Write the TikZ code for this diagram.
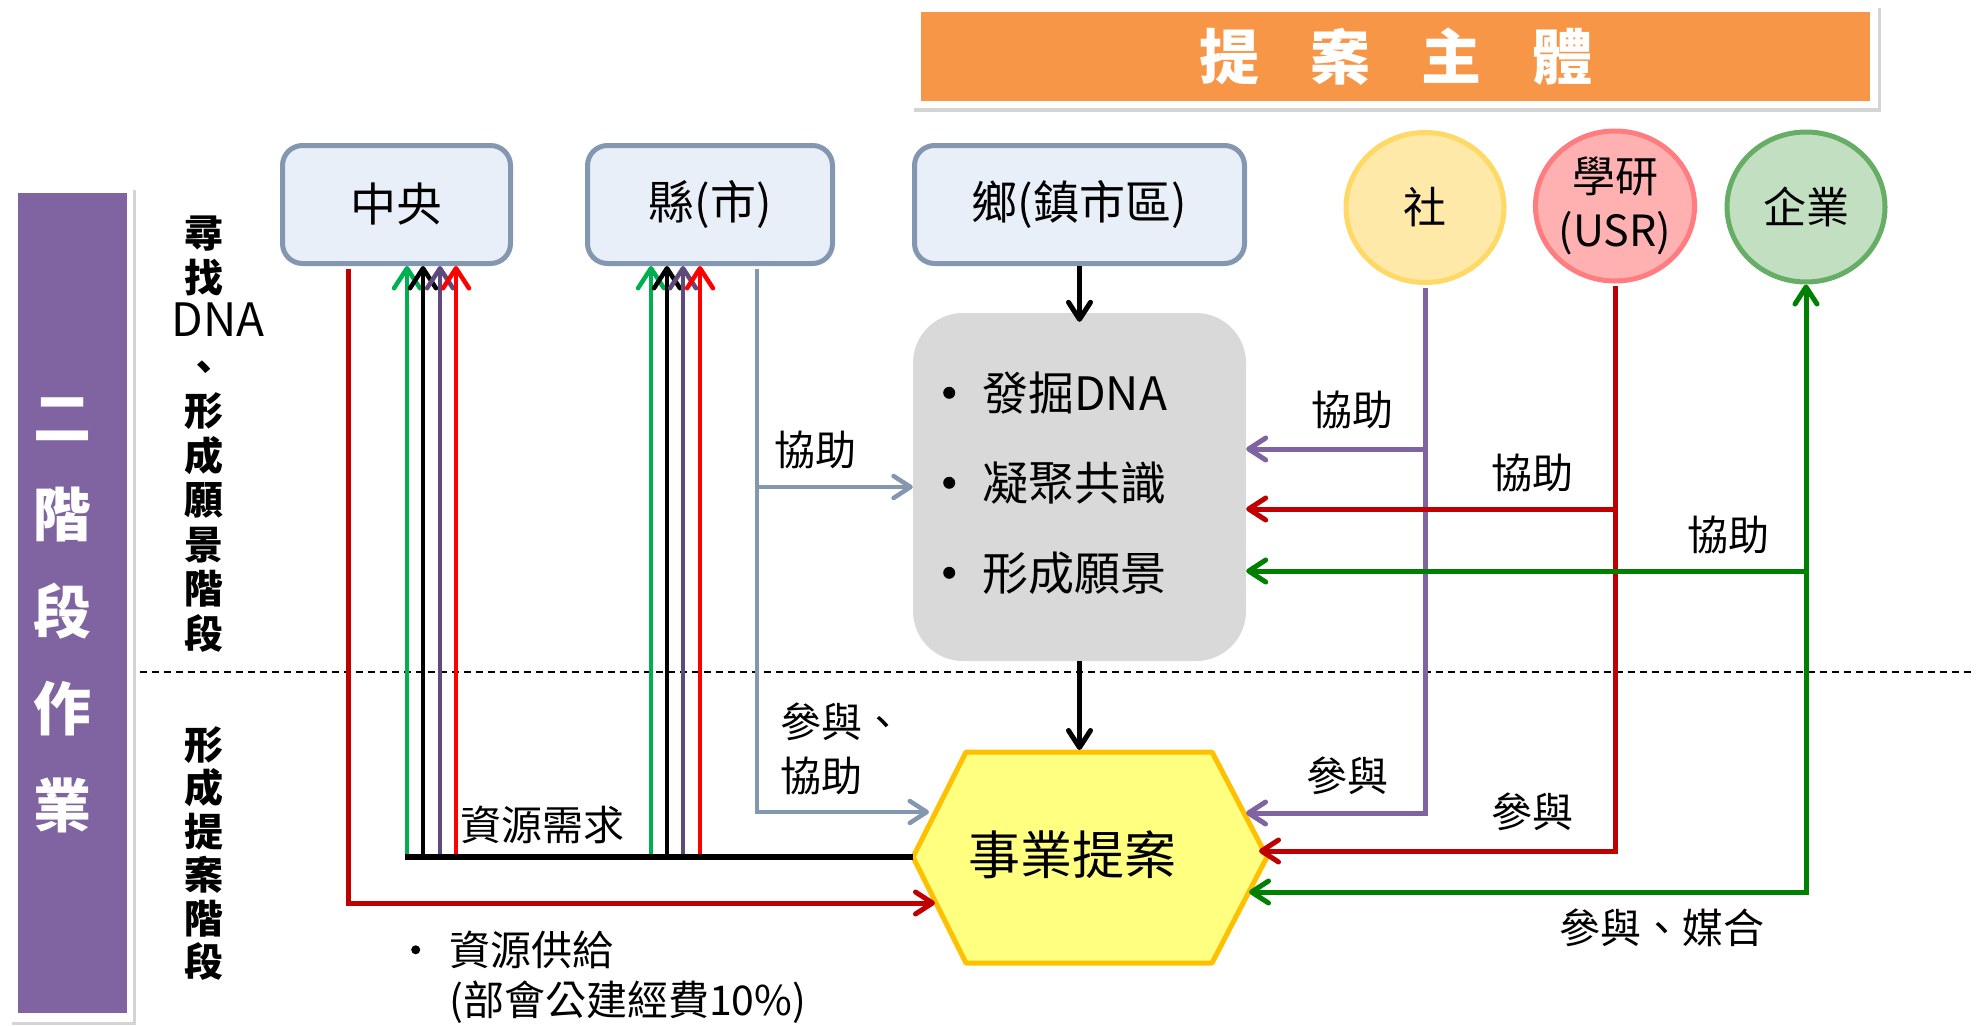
\documentclass[tikz,border=0pt]{standalone}
\usepackage{fontspec}
\setmainfont{Noto Sans CJK TC}
\usetikzlibrary{arrows.meta,calc,shapes.geometric}
\definecolor{boxfill}{HTML}{E9EFF8}
\definecolor{boxline}{HTML}{8497B0}
\definecolor{grayfill}{HTML}{D9D9D9}
\definecolor{hexfill}{HTML}{FFFF80}
\definecolor{hexline}{HTML}{FFC000}
\definecolor{orangefill}{HTML}{F79646}
\definecolor{barpurple}{HTML}{8064A2}
\definecolor{upgreen}{HTML}{00B050}
\definecolor{uppurple}{HTML}{604A7B}
\definecolor{upred}{HTML}{FF0000}
\definecolor{darkred}{HTML}{C00000}
\definecolor{darkgreen}{HTML}{008000}
\definecolor{lilac}{HTML}{8064A2}
\definecolor{yfill}{HTML}{FFE9A8}
\definecolor{yline}{HTML}{FFD966}
\definecolor{rfill}{HTML}{FFB1B1}
\definecolor{rline}{HTML}{FF7C80}
\definecolor{gfill}{HTML}{C3DFC1}
\definecolor{gline}{HTML}{66AD66}
\definecolor{shadowgray}{HTML}{D4D4D4}
\newcommand{\fsz}[2]{\fontsize{#1}{#2}\selectfont}
\newcommand{\bigdot}{\raisebox{11.5pt}{\tikz\fill[black] (0pt,0pt) circle (6pt);}}
\newcommand{\smalldot}{\raisebox{11pt}{\tikz\fill[black] (0pt,0pt) circle (4.5pt);}}
\begin{document}
\begin{tikzpicture}[x=1pt,y=-1pt,
  govbox/.style={draw=boxline, line width=5pt, fill=boxfill, rounded corners=20pt,
    minimum height=118pt, inner sep=0pt, font=\fsz{46}{50}},
  actor/.style={ellipse, line width=5pt, minimum width=158pt, minimum height=150pt,
    inner sep=0pt, font=\fsz{43}{54}, align=center},
  conn/.style={line width=5pt},
  thinconn/.style={line width=4.5pt},
  arrowend/.style={arrows={-Straight Barb[length=17pt,width=22pt,round]}},
  uparrow/.style={arrows={-Straight Barb[length=20pt,width=26pt,round]}},
  arrowboth/.style={arrows={Straight Barb[length=17pt,width=22pt,round]-Straight Barb[length=17pt,width=22pt,round]}},
  lbl/.style={font=\fsz{41}{54}, inner sep=0pt, align=left},
]
\useasboundingbox (0,0) rectangle (1976,1026);
% title frame
\fill[shadowgray] (914,8) rectangle (1881,112);
\fill[white] (912,4) rectangle (1878,108);
\node[fill=orangefill, minimum width=949pt, minimum height=89pt, inner sep=0pt,
  font=\bfseries\fsz{60}{60}, text=white] (title) at (1395.5,56.5)
  {提\hspace{51pt}案\hspace{51pt}主\hspace{51pt}體};
% left bar
\fill[shadowgray] (12,190) rectangle (136,1025);
\fill[white] (10,187) rectangle (133,1022);
\node[fill=barpurple, minimum width=109pt, minimum height=820pt, inner sep=0pt] (bar) at (72.5,603) {};
\node[font=\bfseries\fsz{58}{97}, text=white, align=center, inner sep=0pt] (bartext) at (62,615)
  {二\\階\\段\\作\\業};
% stage labels
\node[font=\bfseries\fsz{39}{44.5}, align=center, inner sep=0pt] (stageA) at (204,434)
  {尋\\找\\\hspace*{28pt}{\mdseries\fsz{46}{44.5}DNA}\\、\\形\\成\\願\\景\\階\\段};
\node[font=\bfseries\fsz{39}{43.4}, align=center, inner sep=0pt] (stageB) at (204,853.5)
  {形\\成\\提\\案\\階\\段};
% divider
\coordinate (divL) at (140,672);
\coordinate (divR) at (1976,672);
\draw[line width=1.6pt, dash pattern=on 7pt off 5pt] (divL) -- (divR);
% boxes
\node[govbox, minimum width=228pt] (zy) at (396.5,204.5) {中央};
\node[govbox, minimum width=245pt] (xian) at (710,204.5) {縣(市)};
\node[govbox, minimum width=330pt] (xiang) at (1079.5,204.5) {鄉(鎮市區)};
\node[actor, draw=yline, fill=yfill] (she) at (1425,207.5) {社};
\node[actor, draw=rline, fill=rfill] (yan) at (1615,206) {學研\\(USR)};
\node[actor, draw=gline, fill=gfill] (qi) at (1806,207) {企業};
\node[fill=grayfill, rounded corners=50pt, minimum width=333pt, minimum height=348pt] (gray) at (1079.5,487) {};
\node[font=\fsz{46}{90}, align=left, anchor=west, inner sep=0pt] (graytext) at (943,483)
  {\makebox[39pt][l]{\bigdot}發掘DNA\\\makebox[39pt][l]{\bigdot}凝聚共識\\\makebox[39pt][l]{\bigdot}形成願景};
% hexagon
\coordinate (hW) at (913,857);
\coordinate (hNW) at (966,752);
\coordinate (hNE) at (1212,752);
\coordinate (hE) at (1267,857);
\coordinate (hSE) at (1212,963);
\coordinate (hSW) at (966,963);
\draw[fill=hexfill, draw=hexline, line width=5pt, line join=round] (hW) -- (hNW) -- (hNE) -- (hE) -- (hSE) -- (hSW) -- cycle;
\node[font=\fsz{52}{52}, inner sep=0pt] (hex) at (1072,855) {事業提案};
% black flow
\coordinate (hTop) at (1079.5,750);
\draw[conn, arrowend] (xiang.south) -- ($(gray.north)+(0,9)$);
\draw[conn, arrowend] (gray.south) -- (hTop);
% resource demand
\foreach \n/\x/\c in {a/407/upgreen,b/423/black,c/440/uppurple,d/456/upred} {
  \coordinate (zy\n) at (\x,854);
  \draw[thinconn, \c, uparrow] (zy\n) -- (zy\n |- zy.south);
}
\foreach \n/\x/\c in {a/651/upgreen,b/667/black,c/683/uppurple,d/700/upred} {
  \coordinate (xn\n) at (\x,854);
  \draw[thinconn, \c, uparrow] (xn\n) -- (xn\n |- xian.south);
}
\coordinate (busL) at (404.5,857);
\draw[line width=6pt] (hW) -- (busL);
% resource supply
\coordinate (zyR) at ([xshift=-48pt]zy.south);
\coordinate (hSupply) at (935,903);
\draw[conn, darkred, arrowend, shorten <=2.5pt] (zyR) |- (hSupply);
% county assist
\coordinate (xB) at ([xshift=47pt]xian.south);
\coordinate (hAssist) at (929,812);
\draw[thinconn, boxline, arrowend, shorten <=2.5pt] (xB) |- (hAssist);
\coordinate (xG) at (757,487);
\draw[thinconn, boxline, arrowend] (xG) -- (xG -| gray.west);
% community
\coordinate (hP) at (1246,813);
\draw[conn, lilac, arrowend, shorten <=2.5pt] (she.south) |- (hP);
\coordinate (sG) at (1425,449);
\draw[conn, lilac, arrowend] (sG) -- (sG -| gray.east);
% academia
\coordinate (hR) at (1259,851);
\draw[conn, darkred, arrowend, shorten <=2.5pt] (yan.south) |- (hR);
\coordinate (yG) at (1615,509);
\draw[conn, darkred, arrowend] (yG) -- (yG -| gray.east);
% enterprise
\coordinate (hG) at (1249,892);
\draw[conn, darkgreen, arrowboth] (qi.south) |- (hG);
\coordinate (qG) at (1806,571);
\draw[conn, darkgreen, arrowend] (qG) -- (qG -| gray.east);
% labels
\node[lbl] (l1) at (815,450) {協助};
\node[lbl, anchor=west] (l2) at (780,749) {參與、\\協助};
\node[lbl] (l3) at (542,825) {資源需求};
\node[lbl] (l4) at (1352,410) {協助};
\node[lbl] (l5) at (1532,473) {協助};
\node[lbl] (l6) at (1728,535) {協助};
\node[lbl] (l7) at (1347,776) {參與};
\node[lbl] (l8) at (1532,812) {參與};
\node[lbl] (l9) at (1662,928) {參與、媒合};
\node[lbl, font=\fsz{41}{50}, anchor=west] (supply) at (411,977)
  {\makebox[38pt][l]{\smalldot}資源供給\\\hspace*{38pt}(部會公建經費10\%)};
\end{tikzpicture}
\end{document}
